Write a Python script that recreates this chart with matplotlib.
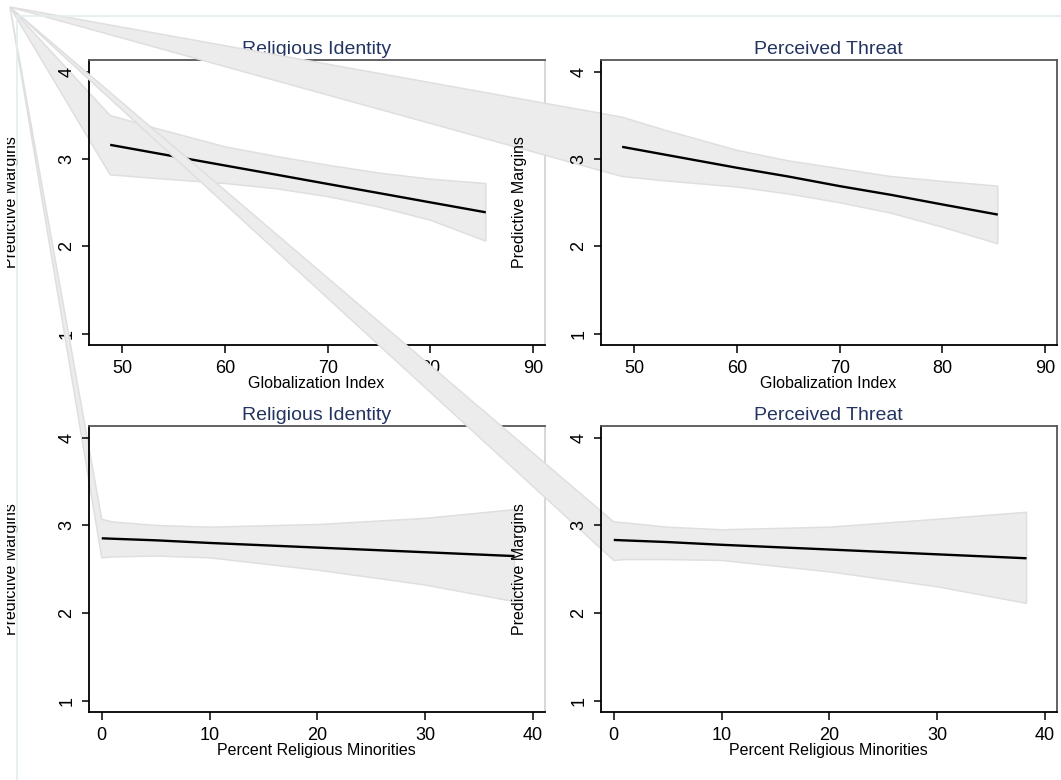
import matplotlib
matplotlib.use('Agg')
import matplotlib.pyplot as plt
from matplotlib.patches import Polygon
from matplotlib.lines import Line2D
from matplotlib.transforms import Bbox
import numpy as np

plt.rcParams['font.family'] = ['Liberation Sans', 'DejaVu Sans']

# ---------------- data ----------------
glob_x = [48.8, 53, 60, 65, 70, 75, 80, 85.4]
rid_glob_fit = [3.163, 3.074, 2.926, 2.821, 2.715, 2.610, 2.504, 2.39]
rid_glob_lo = [2.82, 2.78, 2.72, 2.66, 2.57, 2.45, 2.30, 2.06]
rid_glob_hi = [3.50, 3.36, 3.14, 3.03, 2.93, 2.84, 2.77, 2.72]
thr_glob_fit = [3.14, 3.05, 2.90, 2.80, 2.69, 2.59, 2.48, 2.364]
thr_glob_lo = [2.80, 2.75, 2.68, 2.60, 2.50, 2.38, 2.22, 2.03]
thr_glob_hi = [3.48, 3.33, 3.10, 2.98, 2.89, 2.80, 2.745, 2.69]

min_x = [0, 1, 5, 10, 20, 30, 38.3]
rid_min_fit = [2.853, 2.848, 2.83, 2.80, 2.747, 2.694, 2.65]
rid_min_lo = [2.63, 2.64, 2.65, 2.63, 2.49, 2.32, 2.13]
rid_min_hi = [3.07, 3.04, 3.00, 2.98, 3.01, 3.08, 3.18]
thr_min_fit = [2.834, 2.829, 2.81, 2.779, 2.725, 2.670, 2.625]
thr_min_lo = [2.60, 2.61, 2.61, 2.60, 2.47, 2.30, 2.11]
thr_min_hi = [3.04, 3.03, 2.98, 2.95, 2.98, 3.07, 3.15]

titles = ["Religious Identity", "Perceived Threat"]
xlabels = ["Globalization Index", "Percent Religious Minorities"]
ylabel = "Predictive Margins"
glob_ticks = [50, 60, 70, 80, 90]
min_ticks = [0, 10, 20, 30, 40]
y_ticks = [1, 2, 3, 4]

# ---------------- layout ----------------
W, H = 1061, 780
fig = plt.figure(figsize=(W / 100, H / 100), dpi=100)
fig.patch.set_facecolor('white')

def rect(l, t, r, b):
    return [l / W, 1 - b / H, (r - l) / W, (b - t) / H]

# outer frame (graph region outline)
frame_c = '#e4ecef'
fig.add_artist(Line2D([17 / W, 1.0], [1 - 16 / H, 1 - 16 / H], color=frame_c, lw=1.2,
                      transform=fig.transFigure))
fig.add_artist(Line2D([17 / W, 17 / W], [0, 1 - 16 / H], color=frame_c, lw=1.2,
                      transform=fig.transFigure))

APEX = (10 / W, 1 - 7 / H)  # stray vertex of the band paths (figure fraction)

title_c = '#243461'
band_face = '#ececec'
band_edge = '#dfdfdf'

panels = [
    dict(r=rect(88.5, 60, 544.5, 345), title=titles[0], xl=xlabels[0], x=glob_x,
         fit=rid_glob_fit, lo=rid_glob_lo, hi=rid_glob_hi, ticks=glob_ticks,
         xlim=(46.69, 91.12), col=0),
    dict(r=rect(600.5, 60, 1056.5, 345), title=titles[1], xl=xlabels[0], x=glob_x,
         fit=thr_glob_fit, lo=thr_glob_lo, hi=thr_glob_hi, ticks=glob_ticks,
         xlim=(46.69, 91.12), col=1),
    dict(r=rect(88.5, 426, 544.5, 712), title=titles[0], xl=xlabels[1], x=min_x,
         fit=rid_min_fit, lo=rid_min_lo, hi=rid_min_hi, ticks=min_ticks,
         xlim=(-1.23, 41.08), col=0),
    dict(r=rect(600.5, 426, 1056.5, 712), title=titles[1], xl=xlabels[1], x=min_x,
         fit=thr_min_fit, lo=thr_min_lo, hi=thr_min_hi, ticks=min_ticks,
         xlim=(-1.23, 41.08), col=1),
]

for p in panels:
    ax = fig.add_axes(p['r'])
    ax.set_facecolor('none')
    ax.set_xlim(*p['xlim'])
    ax.set_ylim(0.87, 4.135)

    x = np.asarray(p['x'], float)
    lo = np.asarray(p['lo'], float)
    hi = np.asarray(p['hi'], float)
    apex_disp = fig.transFigure.transform(APEX)
    apex_data = ax.transData.inverted().transform(apex_disp)
    verts = np.vstack([apex_data,
                       np.column_stack([x, lo]),
                       np.column_stack([x, hi])[::-1]])
    ax.add_patch(Polygon(verts, closed=True, facecolor=band_face, edgecolor=band_edge,
                         lw=1.1, clip_on=False, zorder=1))
    ax.plot(x, p['fit'], color='black', lw=1.7, solid_capstyle='butt', zorder=2)

    for s in ['left', 'bottom']:
        ax.spines[s].set_color('black')
        ax.spines[s].set_linewidth(1.3)
    for s in ['top', 'right']:
        ax.spines[s].set_color('#555555')
        ax.spines[s].set_linewidth(1.3)
    if p['col'] == 0:
        ax.spines['right'].set_color('#d4d4d4')

    ax.set_xticks(p['ticks'])
    ax.set_yticks(y_ticks)
    ax.tick_params(axis='x', length=5.8, width=1.1, pad=5, labelsize=13, colors='black')
    ax.tick_params(axis='y', length=4.8, width=1.1, pad=4.5, labelsize=13, colors='black',
                   labelrotation=90)
    for t in ax.get_yticklabels():
        t.set_va('center')

    ax.set_title(p['title'], color=title_c, fontsize=14, pad=4)
    ax.set_xlabel(p['xl'], fontsize=11.5, labelpad=-1)
    lab = ax.set_ylabel(ylabel, fontsize=11.5)
    if p['col'] == 0:
        ax.yaxis.set_label_coords((19 - 88.5) / 456, 0.5)
        lab.set_clip_box(Bbox([[7, 0], [W, H]]))
        lab.set_clip_on(True)
    else:
        ax.yaxis.set_label_coords((527 - 600.5) / 456, 0.5)

fig.savefig('out.png', dpi=100, facecolor='white')
